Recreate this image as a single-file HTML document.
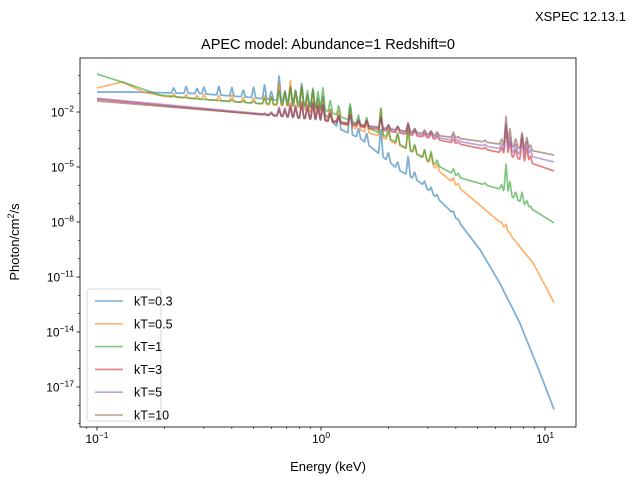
<!DOCTYPE html>
<html><head><meta charset="utf-8">
<style>
body{margin:0;background:#fff;}
svg{display:block;font-family:"Liberation Sans","DejaVu Sans",sans-serif;}
</style></head>
<body>
<svg id="chart" width="640" height="480" viewBox="0 0 640 480">
<rect x="0" y="0" width="640" height="480" fill="#fff"/>
<text x="626" y="21" font-size="13" text-anchor="end">XSPEC 12.13.1</text>
<text x="328" y="49" font-size="14.5" text-anchor="middle">APEC model: Abundance=1 Redshift=0</text>
<g id="plot"></g>
<g id="axes"></g>
<text x="328" y="471" font-size="13" text-anchor="middle">Energy (keV)</text>
<text transform="translate(19,242) rotate(-90)" font-size="13" text-anchor="middle">Photon/cm<tspan font-size="9" dy="-5">2</tspan><tspan dy="5">/s</tspan></text>
<g id="legend"></g>
</svg>
<script>
const seriesLabels = ["kT=0.3","kT=0.5","kT=1","kT=3","kT=5","kT=10"];
const colors = ["#1f77b4","#ff7f0e","#2ca02c","#d62728","#9467bd","#8c564b"];
const e03 = [0.1,0.14,0.2,0.29,0.48,0.8,1.0,1.2,1.5,2.25,2.76,3.76,5.14,6.28,7.72,9.5,11];
const f03 = [-0.91,-0.91,-0.95,-1.0,-1.2,-1.5,-1.9,-2.9,-3.45,-5.2,-5.82,-7.35,-9.53,-11.33,-13.51,-16.24,-18.26];
const e05 = [0.1,0.13,0.16,0.2,0.29,0.48,0.8,1.0,1.5,1.83,2.76,3.76,6.28,8.85,11];
const f05 = [-0.69,-0.36,-0.9,-1.15,-1.3,-1.5,-1.75,-2.2,-3.0,-3.31,-4.35,-5.71,-8.0,-10.24,-12.42];
const e1 = [0.1,0.14,0.19,0.29,0.48,0.8,1.0,1.83,2.76,4.2,6.28,11];
const f1 = [0.07,-0.5,-1.07,-1.3,-1.5,-1.65,-1.8,-3.15,-4.4,-5.6,-6.2,-8.06];
const e3 = [0.1,1.0,3.0,6.28,11];
const f3 = [-1.3,-2.45,-3.4,-4.2,-5.22];
const e5 = [0.1,1.0,3.0,6.28,11];
const f5 = [-1.25,-2.4,-3.3,-4.0,-4.73];
const e10 = [0.1,1.0,3.0,6.28,11];
const f10 = [-1.4,-2.4,-3.2,-3.75,-4.35];
const lineE = [0.22,0.25,0.28,0.3,0.35,0.4,0.45,0.5,0.56,0.6,0.65,0.69,0.73,0.77,0.82,0.87,0.92,0.97,1.02,1.1,1.2,1.35,1.47,1.6,1.85,2.0,2.2,2.45,2.62,2.9,3.1,3.3,3.9,4.1,5.4,6.4,6.7,6.97,7.4,7.9,8.3,8.6];
const amp03 = [0.3,0.4,0.3,0.4,0.5,0.5,0.4,0.6,0.8,0.5,1.4,0.6,0.9,0.7,1.2,0.6,1.0,0.6,0.9,0.6,0.8,1.6,0.5,0.6,1.5,0.5,0.4,1.1,0.4,0.3,0.3,0.2,0.2,0.1,0,0,0,0,0,0,0,0];
const amp05 = [0.2,0.2,0.2,0.3,0.3,0.4,0.3,0.3,0.5,0.5,1.3,0.8,1.5,0.9,1.3,0.8,1.2,0.8,1.0,0.6,0.7,1.0,0.6,0.6,1.6,0.5,0.6,1.2,0.4,0.5,0.6,0.3,0.3,0.2,0,0.1,0.3,0.1,0,0,0,0];
const amp1 = [0,0,0,0,0,0.1,0.1,0.1,0.3,0.4,0.8,0.7,1.0,0.8,1.1,0.9,1.1,0.9,1.2,0.7,0.6,1.0,0.5,0.6,1.5,0.5,0.6,1.2,0.5,0.5,0.6,0.3,0.3,0.2,0.1,0.3,1.6,0.8,0.4,0.6,0.3,0.1];
const amp3 = [0,0,0,0,0,0,0,0,0.1,0.2,0.5,0.5,0.8,0.7,1.0,0.8,1.0,0.8,0.9,0.5,0.4,0.6,0.3,0.4,0.7,0.3,0.3,0.6,0.3,0.2,0.3,0.2,0.2,0.1,0.1,0.3,1.5,0.8,0.5,1.2,0.8,0.4];
const amp5 = [0,0,0,0,0,0,0,0,0,0.1,0.4,0.4,0.6,0.6,0.8,0.7,0.9,0.7,0.8,0.4,0.4,0.5,0.3,0.3,0.6,0.3,0.3,0.5,0.3,0.2,0.3,0.2,0.3,0.1,0.1,0.3,1.5,0.8,0.5,1.1,0.8,0.4];
const amp10 = [0,0,0,0,0,0,0,0,0,0.1,0.3,0.3,0.5,0.5,0.7,0.6,0.8,0.7,0.8,0.4,0.3,0.5,0.2,0.3,0.6,0.2,0.2,0.5,0.2,0.2,0.2,0.2,0.3,0.1,0.1,0.3,1.6,1.0,0.5,0.9,0.7,0.3];
const xTickVals = [-1,0,1];
const yTickVals = [-2,-5,-8,-11,-14,-17];

const NS="http://www.w3.org/2000/svg";
const L=80,R=576,T=58,B=427;
function xs(E){return 97+(Math.log10(E)+1)*224;}
function ys(lf){return 112+(-2-lf)*18.333;}
function mk(tag,attrs,parent){const el=document.createElementNS(NS,tag);for(const k in attrs)el.setAttribute(k,attrs[k]);parent.appendChild(el);return el;}
const plot=document.getElementById('plot'), axes=document.getElementById('axes'), leg=document.getElementById('legend');

const cp=mk('clipPath',{id:'clip'},plot);
mk('rect',{x:L,y:T,width:R-L,height:B-T},cp);

function interp(es,fs,le){
  const ls=es.map(Math.log10);
  if(le<=ls[0])return fs[0];
  for(let i=1;i<ls.length;i++){if(le<=ls[i]){const t=(le-ls[i-1])/(ls[i]-ls[i-1]);return fs[i-1]+t*(fs[i]-fs[i-1]);}}
  return fs[fs.length-1];
}
const allSeries=[[e03,f03,amp03],[e05,f05,amp05],[e1,f1,amp1],[e3,f3,amp3],[e5,f5,amp5],[e10,f10,amp10]];
allSeries.forEach((s,i)=>{
  const [es,fs,amp]=s;
  const x0=xs(es[0]),x1=xs(es[es.length-1]);
  const lx=lineE.map(xs);
  const pts=[];
  for(let x=x0;x<=x1+0.01;x+=0.5){
    const le=(x-97)/224-1;
    let v=interp(es,fs,le);
    let add=0;
    for(let j=0;j<lx.length;j++){const d=Math.abs(x-lx[j]);if(d<2.2)add=Math.max(add,amp[j]*(1-d/2.2));}
    pts.push(x.toFixed(1)+","+ys(v+add).toFixed(1));
  }
  const p=mk('polyline',{points:pts.join(" "),fill:"none",stroke:colors[i],'stroke-width':1.7,'stroke-opacity':0.6,'stroke-linejoin':'round','clip-path':'url(#clip)'},plot);
  
  
});

const frame=mk('rect',{x:L,y:T,width:R-L,height:B-T,fill:'none',stroke:'#000','stroke-width':0.8},axes);


xTickVals.forEach(v=>{
  const x=97+(v+1)*224;
  const t=mk('line',{x1:x,x2:x,y1:B,y2:B+3.5,stroke:'#000','stroke-width':0.8},axes);
  
  
  const tx=mk('text',{x:x,y:B+16,'font-size':12,'text-anchor':'middle'},axes);
  
  
  tx.innerHTML='10<tspan font-size="8.5" dy="-5">'+(v<0?'\u2212'+(-v):v)+'</tspan>';
});
for(let d=-2;d<=1;d++){for(let m=2;m<=9;m++){const x=97+(d+1+Math.log10(m))*224;if(x<L||x>R)continue;
  const t=mk('line',{x1:x,x2:x,y1:B,y2:B+2,stroke:'#000','stroke-width':0.6},axes);
  
  }}
yTickVals.forEach(v=>{
  const y=ys(v);
  const t=mk('line',{x1:L-3.5,x2:L,y1:y,y2:y,stroke:'#000','stroke-width':0.8},axes);
  
  
  const tx=mk('text',{x:L-6,y:y+4.5,'font-size':12,'text-anchor':'end'},axes);
  
  
  tx.innerHTML='10<tspan font-size="8.5" dy="-5">\u2212'+(-v)+'</tspan>';
});
for(let d=0;d>=-19;d--){if(yTickVals.includes(d))continue;const y=ys(d);
  const t=mk('line',{x1:L-2,x2:L,y1:y,y2:y,stroke:'#000','stroke-width':0.6},axes);
  
  }
const lb=mk('rect',{x:87,y:289,width:74,height:132,rx:3,fill:'#fff','fill-opacity':0.8,stroke:'#ccc','stroke-width':0.8},leg);


seriesLabels.forEach((lab,i)=>{
  const y=301+i*22.8;
  const g=mk('g',{},leg);
  
  
  mk('line',{x1:95,x2:123,y1:y,y2:y,stroke:colors[i],'stroke-width':1.6,'stroke-opacity':0.6},g);
  const t=mk('text',{x:134,y:y+4.5,'font-size':12.5},g);
  t.textContent=lab;
});
</script>
</body></html>
